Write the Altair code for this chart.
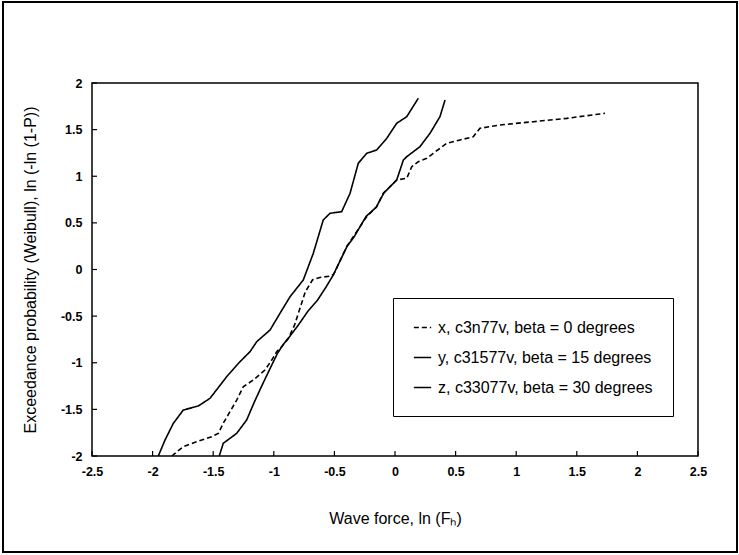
import altair as alt
import pandas as pd

# Series x (dashed): c3n77v, beta = 0 degrees
x_lnF = [-1.842, -1.747, -1.636, -1.512, -1.458, -1.417, -1.306, -1.252, -1.169, -1.073,
         -1.017, -0.976, -0.930, -0.880, -0.830, -0.790, -0.740, -0.680, -0.620, -0.530,
         -0.505, -0.399, -0.344, -0.234, -0.151, -0.097, 0.014, 0.097, 0.138, 0.192,
         0.262, 0.316, 0.427, 0.536, 0.646, 0.701, 0.866, 1.141, 1.417, 1.733]
x_lnP = [-2.00, -1.90, -1.847, -1.793, -1.757, -1.649, -1.40, -1.257, -1.185, -1.078,
         -0.971, -0.882, -0.82, -0.74, -0.60, -0.44, -0.24, -0.11, -0.085, -0.07,
         -0.05, 0.245, 0.352, 0.566, 0.673, 0.817, 0.960, 0.978, 1.102, 1.156,
         1.193, 1.246, 1.353, 1.389, 1.424, 1.514, 1.550, 1.585, 1.621, 1.675]

# Series y (solid): c31577v, beta = 15 degrees
y_lnF = [-1.953, -1.898, -1.829, -1.747, -1.623, -1.526, -1.389, -1.279, -1.196, -1.141,
         -1.031, -0.949, -0.866, -0.757, -0.674, -0.592, -0.536, -0.440, -0.371, -0.303,
         -0.233, -0.151, -0.068, 0.014, 0.097, 0.192]
y_lnP = [-2.00, -1.83, -1.65, -1.507, -1.464, -1.381, -1.15, -0.989, -0.881, -0.774,
         -0.649, -0.47, -0.292, -0.113, 0.174, 0.531, 0.603, 0.620, 0.817, 1.139,
         1.246, 1.282, 1.407, 1.568, 1.639, 1.836]

# Series z (solid): c33077v, beta = 30 degrees
z_lnF = [-1.450, -1.417, -1.306, -1.224, -1.160, -1.100, -1.030, -0.970, -0.920, -0.870,
         -0.800, -0.720, -0.640, -0.570, -0.510, -0.395, -0.340, -0.238, -0.155, -0.092,
         0.014, 0.069, 0.097, 0.206, 0.289, 0.371, 0.413]
z_lnP = [-2.00, -1.864, -1.757, -1.614, -1.42, -1.25, -1.06, -0.90, -0.80, -0.72,
         -0.60, -0.45, -0.33, -0.19, -0.06, 0.25, 0.345, 0.57, 0.668, 0.82,
         0.960, 1.174, 1.210, 1.317, 1.461, 1.639, 1.818]

labels = ["x, c3n77v, beta = 0 degrees",
          "y, c31577v, beta = 15 degrees",
          "z, c33077v, beta = 30 degrees"]

x_ticks = [-2.5, -2, -1.5, -1, -0.5, 0, 0.5, 1, 1.5, 2, 2.5]
y_ticks = [-2, -1.5, -1, -0.5, 0, 0.5, 1, 1.5, 2]

rows = []
for lab, xs, ys in zip(labels, [x_lnF, y_lnF, z_lnF], [x_lnP, y_lnP, z_lnP]):
    for i, (a, b) in enumerate(zip(xs, ys)):
        rows.append({"series": lab, "lnF": a, "lnP": b, "order": i})
df = pd.DataFrame(rows)

W, H = 606, 373
FONT = "Liberation Sans"

xscale = alt.Scale(domain=[-2.5, 2.5], nice=False, zero=False)
yscale = alt.Scale(domain=[-2, 2], nice=False, zero=False)

lines = alt.Chart(df).mark_line(strokeWidth=1.6, clip=True).encode(
    x=alt.X("lnF:Q", scale=xscale,
            axis=alt.Axis(values=x_ticks, ticks=False, domain=False, grid=False,
                          labelExpr="'' + datum.value",
                          labelFont=FONT, labelFontSize=12.5, labelFontWeight="bold",
                          labelColor="black", labelPadding=9, labelFlush=False,
                          title="Wave force, ln (F\u2095)", titleFont=FONT,
                          titleFontSize=16, titleFontWeight="normal", titleColor="black",
                          titlePadding=33)),
    y=alt.Y("lnP:Q", scale=yscale,
            axis=alt.Axis(values=y_ticks, ticks=False, domain=False, grid=False,
                          labelExpr="'' + datum.value",
                          labelFont=FONT, labelFontSize=12.5, labelFontWeight="bold",
                          labelColor="black", labelPadding=10, labelFlush=False,
                          title="Exceedance probability (Weibull), ln (-ln (1-P))",
                          titleFont=FONT, titleFontSize=16, titleFontWeight="normal",
                          titleColor="black", titlePadding=22)),
    color=alt.Color("series:N", scale=alt.Scale(domain=labels, range=["black"] * 3),
                    legend=alt.Legend(title=None, orient="none", legendX=301, legendY=215)),
    strokeDash=alt.StrokeDash("series:N",
                              scale=alt.Scale(domain=labels, range=[[5, 3], [1, 0], [1, 0]]),
                              legend=alt.Legend(title=None, orient="none", legendX=301, legendY=215)),
    order="order:Q",
)

xt = alt.Chart(pd.DataFrame({"t": x_ticks})).mark_rule(color="black", strokeWidth=1.2).encode(
    x=alt.X("t:Q", scale=xscale), y=alt.value(H), y2=alt.value(H - 5))
yt = alt.Chart(pd.DataFrame({"t": y_ticks})).mark_rule(color="black", strokeWidth=1.2).encode(
    y=alt.Y("t:Q", scale=yscale), x=alt.value(0), x2=alt.value(5))

frame = alt.Chart(pd.DataFrame({"f": [0]})).mark_rect(
    fill=None, stroke="black", strokeWidth=2).encode(
    x=alt.value(-89), x2=alt.value(W + 39), y=alt.value(-81), y2=alt.value(H + 96))

chart = alt.layer(frame, lines, xt, yt).properties(
    width=W, height=H,
    autosize=alt.AutoSizeParams(type="none"),
    padding={"left": 92, "top": 83, "right": 41, "bottom": 99},
    background="white",
).configure_view(stroke="black", strokeWidth=1.5).configure_legend(
    strokeColor="black", fillColor="white", padding=20, rowPadding=12,
    symbolType="stroke", symbolSize=300, symbolStrokeWidth=1.6, symbolStrokeColor="black",
    labelFont=FONT, labelFontSize=16, labelColor="black", labelOffset=6, labelLimit=400,
    symbolDash=[5, 3],
)

chart.save("out.html", embed_options={"renderer": "svg", "actions": False})
